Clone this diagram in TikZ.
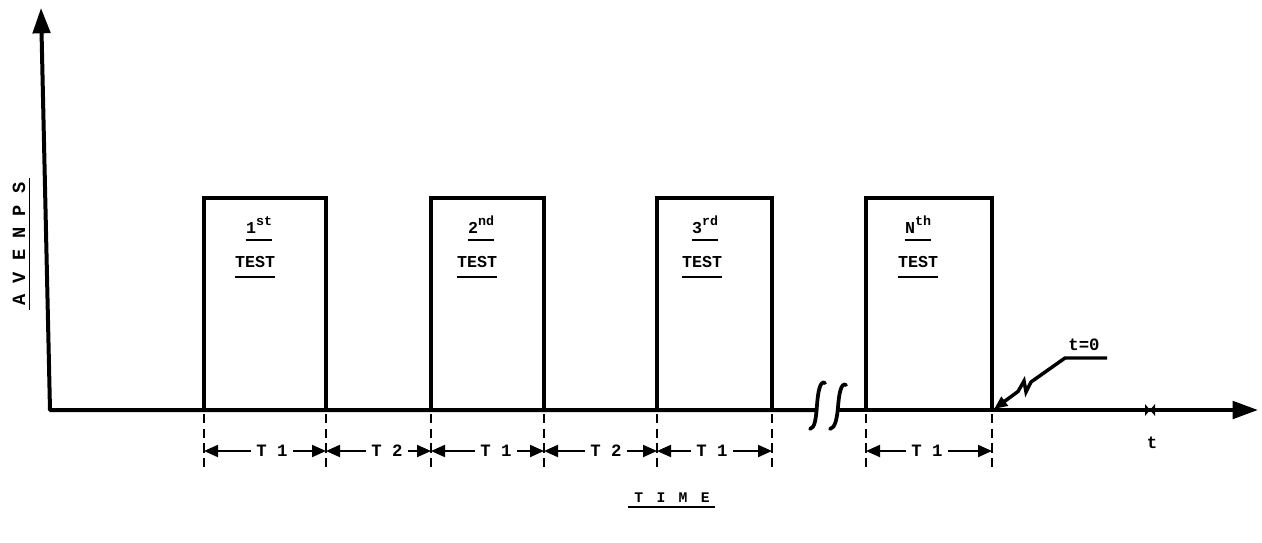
\documentclass[tikz,border=0pt]{standalone}
\usepackage{fontspec}
\setmainfont{Liberation Mono}
\usetikzlibrary{arrows.meta}
\begin{document}
\begin{tikzpicture}[x=0.75pt,y=-0.75pt,
  axis/.style={line width=3pt, line join=round},
  pulse/.style={line width=2.3pt, line join=miter},
  ext/.style={line width=1.3pt, dash pattern=on 7pt off 4pt},
  dim/.style={line width=1.5pt, -{Triangle[length=10.5pt,width=9pt]}},
  lab/.style={font=\bfseries\fontsize{13}{15}\selectfont, inner sep=3.5pt},
  ttl/.style={font=\bfseries\fontsize{12.5}{14}\selectfont, inner sep=0pt, anchor=base},
  ul/.style={line width=1.1pt},
  brk/.style={line width=2.8pt, line cap=round},
  leader/.style={line width=2.6pt, line join=miter, -{Triangle[length=10pt,width=8pt]}},
]
\useasboundingbox (0,0) rectangle (1262,542);

% axes
\coordinate (O) at (50,410);
\coordinate (ytip) at (41,8);
\coordinate (brkL) at (817,410);
\coordinate (brkR) at (838,410);
\coordinate (xtip) at (1258,410);
\draw[axis,{Triangle[length=19pt,width=13pt]}-] (ytip) -- (O) -- (brkL);
\draw[axis,-{Triangle[length=19pt,width=13pt]}] (brkR) -- (xtip);

% break marks
\draw[brk] (825,383) .. controls (820,380) and (818,392) .. (817,405) .. controls (816,418) and (815,428) .. (810,429);
\draw[brk] (846,385) .. controls (841,382) and (839,394) .. (838,407) .. controls (837,419) and (835,428) .. (830,429);

% tick on time axis
\fill (1145,404) -- (1155,416) -- (1155,404) -- (1145,416) -- cycle;

% pulses
\draw[pulse] (204,410) -- (204,198) -- (326,198) -- (326,410);
\draw[pulse] (431,410) -- (431,198) -- (544,198) -- (544,410);
\draw[pulse] (657,410) -- (657,198) -- (772,198) -- (772,410);
\draw[pulse] (866,410) -- (866,198) -- (992,198) -- (992,410);

% pulse labels
\node[ttl] (s1) at (259,233) {1\raisebox{5.5pt}{\fontsize{10}{10}\selectfont st}};
\node[ttl] (s2) at (481,233) {2\raisebox{5.5pt}{\fontsize{10}{10}\selectfont nd}};
\node[ttl] (s3) at (705,233) {3\raisebox{5.5pt}{\fontsize{10}{10}\selectfont rd}};
\node[ttl] (s4) at (918,233) {N\raisebox{5.5pt}{\fontsize{10}{10}\selectfont th}};
\foreach \n/\x in {1/255,2/477,3/702,4/918}{
  \node[ttl] (e\n) at (\x,267) {TEST};
  \draw[ul] ([yshift=-7.5pt]e\n.base west) -- ([yshift=-7.5pt]e\n.base east);
  \draw[ul] ([yshift=-5.3pt]s\n.base west) -- ([yshift=-5.3pt]s\n.base east);
}

% extension lines
\foreach \x [count=\i] in {204,326,431,544,657,772,866,992}{
  \coordinate (E\i) at (\x,451);
  \draw[ext] (\x,414) -- (\x,468);
}

% dimension labels
\node[lab] (L1) at (272,451) {T 1};
\node[lab] (L2) at (387,451) {T 2};
\node[lab] (L3) at (496,451) {T 1};
\node[lab] (L4) at (606,451) {T 2};
\node[lab] (L5) at (712,451) {T 1};
\node[lab] (L6) at (927,451) {T 1};
\foreach \l/\a/\b in {L1/E1/E2,L2/E2/E3,L3/E3/E4,L4/E4/E5,L5/E5/E6,L6/E7/E8}{
  \draw[dim] (\l) -- (\a);
  \draw[dim] (\l) -- (\b);
}

% t = 0 leader
\node[lab, inner sep=0pt, anchor=base] (t0) at (1084,350) {t=0};
\coordinate (t0end) at (1107,358);
\coordinate (knee) at (1065,358);
\coordinate (z4) at (1031,382);
\coordinate (z3) at (1026,392);
\coordinate (z2) at (1024,381);
\coordinate (z1) at (1018,391.5);
\coordinate (t0tip) at (994,409);
\draw[leader] (t0end) -- (knee) -- (z4) -- (z3) -- (z2) -- (z1) -- (t0tip);

% axis labels
\node[lab] (tl) at (1152,443) {t};
\node[ttl, font=\bfseries\fontsize{11}{13}\selectfont, anchor=center] (time) at (672,498)
  {T\hspace{10pt}I\hspace{10pt}M\hspace{10pt}E};
\draw[ul] (628,507) -- (715,507);
\node[font=\bfseries\fontsize{14}{16}\selectfont, rotate=90, inner sep=3pt] (yl) at (19,244) {A V E N P S};
\draw[ul] (yl.south west) -- (yl.south east);
\end{tikzpicture}
\end{document}
